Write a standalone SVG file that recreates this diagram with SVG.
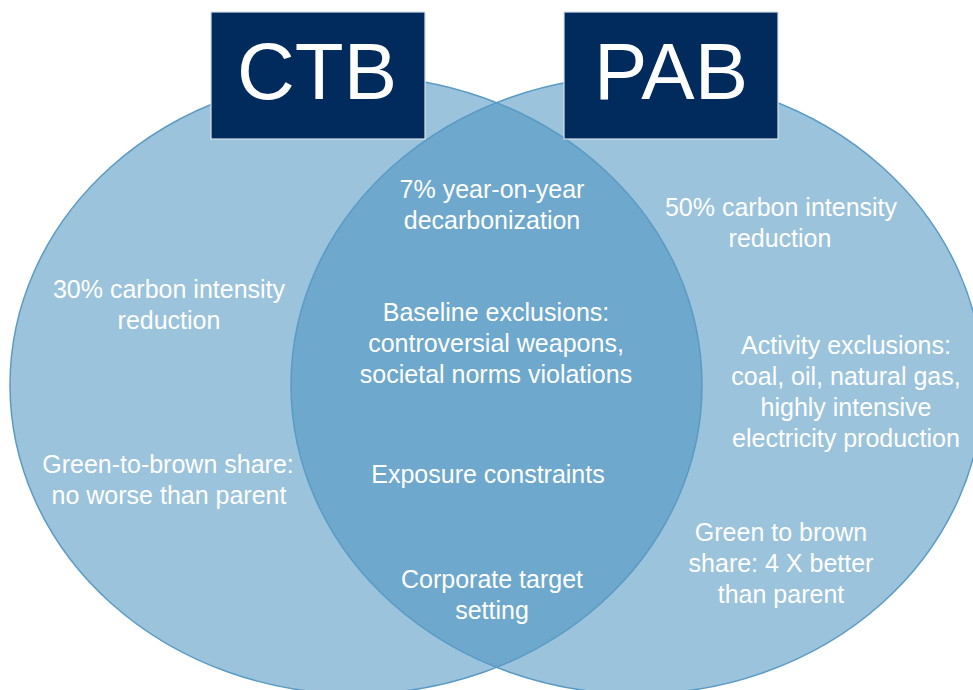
<svg xmlns="http://www.w3.org/2000/svg" width="973" height="690" viewBox="0 0 973 690">
  <style>
    .set { fill: #4992BF; fill-opacity: 0.55; }
    .rim { fill: none; stroke: #5A9BC5; stroke-width: 1.5; }
    .badge { fill: #012B5D; stroke: #D9E1EA; stroke-width: 1.2; }
    .badge-text { font-family: "Liberation Sans", Arial, sans-serif; font-size: 80px; fill: #FFFFFF; text-anchor: middle; }
    .label { font-family: "Liberation Sans", Arial, sans-serif; font-size: 25px; fill: #FFFFFF; text-anchor: middle; }
  </style>

  <rect width="973" height="690" fill="#FFFFFF"/>

  <!-- two overlapping sets; translucent fills darken the shared lens -->
  <g id="ctb-set">
    <ellipse class="set" cx="356" cy="385" rx="346" ry="309"/>
  </g>
  <g id="pab-set">
    <ellipse class="set" cx="637" cy="385" rx="346" ry="309"/>
  </g>
  <g id="outlines">
    <ellipse class="rim" cx="356" cy="385" rx="346" ry="309"/>
    <ellipse class="rim" cx="637" cy="385" rx="346" ry="309"/>
  </g>

  <!-- title badges -->
  <g id="ctb-title">
    <rect class="badge" x="211" y="12" width="214" height="127"/>
    <text class="badge-text" x="317" y="99">CTB</text>
  </g>
  <g id="pab-title">
    <rect class="badge" x="564" y="12" width="214" height="127"/>
    <text class="badge-text" x="671" y="99">PAB</text>
  </g>

  <!-- CTB-only requirements -->
  <g id="ctb-carbon">
    <text class="label" x="169" y="298">30% carbon intensity</text>
    <text class="label" x="169" y="329">reduction</text>
  </g>
  <g id="ctb-green">
    <text class="label" x="168" y="473">Green-to-brown share:</text>
    <text class="label" x="169" y="504">no worse than parent</text>
  </g>

  <!-- shared requirements -->
  <g id="shared-decarb">
    <text class="label" x="492" y="198">7% year-on-year</text>
    <text class="label" x="492" y="229">decarbonization</text>
  </g>
  <g id="shared-baseline">
    <text class="label" x="496" y="321">Baseline exclusions:</text>
    <text class="label" x="496" y="352">controversial weapons,</text>
    <text class="label" x="496" y="383">societal norms violations</text>
  </g>
  <g id="shared-exposure">
    <text class="label" x="488" y="483">Exposure constraints</text>
  </g>
  <g id="shared-target">
    <text class="label" x="492" y="588">Corporate target</text>
    <text class="label" x="492" y="619">setting</text>
  </g>

  <!-- PAB-only requirements -->
  <g id="pab-carbon">
    <text class="label" x="781" y="216">50% carbon intensity</text>
    <text class="label" x="780" y="247">reduction</text>
  </g>
  <g id="pab-activity">
    <text class="label" x="846" y="354">Activity exclusions:</text>
    <text class="label" x="846" y="385">coal, oil, natural gas,</text>
    <text class="label" x="846" y="416">highly intensive</text>
    <text class="label" x="846" y="447">electricity production</text>
  </g>
  <g id="pab-green">
    <text class="label" x="781" y="541">Green to brown</text>
    <text class="label" x="781" y="572">share: 4 X better</text>
    <text class="label" x="781" y="603">than parent</text>
  </g>

  <!-- no connectors in this figure -->
  <g id="connectors"/>
</svg>
